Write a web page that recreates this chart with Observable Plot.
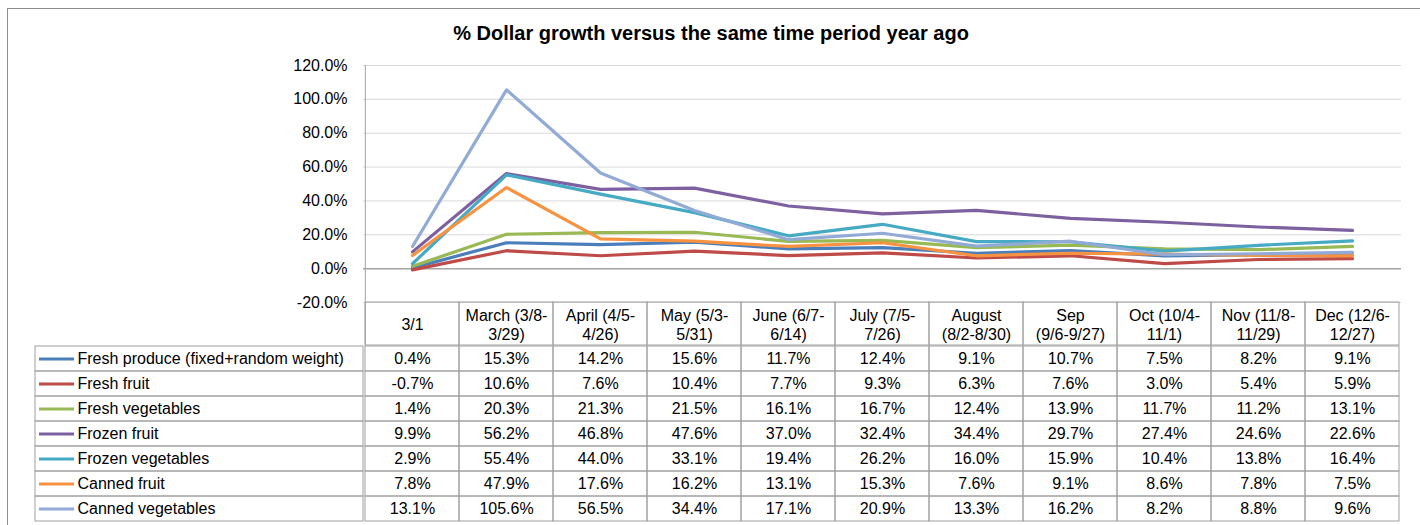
<!DOCTYPE html>
<html><head><meta charset="utf-8">
<script src="https://cdn.jsdelivr.net/npm/d3@7"></script>
<script src="https://cdn.jsdelivr.net/npm/@observablehq/plot@0.6"></script>
<style>
html,body{margin:0;padding:0;background:#fff;}
#wrap{position:relative;width:1420px;height:525px;overflow:hidden;font-family:"Liberation Sans",Arial,sans-serif;}
#border{position:absolute;left:7px;top:8px;width:1420px;height:600px;border-left:1px solid #8e8e8e;border-top:1px solid #8e8e8e;}
#title{position:absolute;left:0;top:21px;width:1422px;text-align:center;font-weight:bold;font-size:20px;line-height:24px;color:#000;}
#wrap svg{position:absolute;left:0;top:0;}
</style></head><body>
<div id="wrap"><div id="border"></div><div id="title">% Dollar growth versus the same time period year ago</div></div>
<script>
const categories = ["3/1","March (3/8-\n3/29)","April (4/5-\n4/26)","May (5/3-\n5/31)","June (6/7-\n6/14)","July (7/5-\n7/26)","August\n(8/2-8/30)","Sep\n(9/6-9/27)","Oct (10/4-\n11/1)","Nov (11/8-\n11/29)","Dec (12/6-\n12/27)"];
const seriesNames = ["Fresh produce (fixed+random weight)","Fresh fruit","Fresh vegetables","Frozen fruit","Frozen vegetables","Canned fruit","Canned vegetables"];
const freshProduce = [0.4,15.3,14.2,15.6,11.7,12.4,9.1,10.7,7.5,8.2,9.1];
const freshFruit = [-0.7,10.6,7.6,10.4,7.7,9.3,6.3,7.6,3.0,5.4,5.9];
const freshVegetables = [1.4,20.3,21.3,21.5,16.1,16.7,12.4,13.9,11.7,11.2,13.1];
const frozenFruit = [9.9,56.2,46.8,47.6,37.0,32.4,34.4,29.7,27.4,24.6,22.6];
const frozenVegetables = [2.9,55.4,44.0,33.1,19.4,26.2,16.0,15.9,10.4,13.8,16.4];
const cannedFruit = [7.8,47.9,17.6,16.2,13.1,15.3,7.6,9.1,8.6,7.8,7.5];
const cannedVegetables = [13.1,105.6,56.5,34.4,17.1,20.9,13.3,16.2,8.2,8.8,9.6];
const yTicks = [-20,0,20,40,60,80,100,120];
const colors = ["#4A7EBB","#BE4B48","#98B954","#7D60A0","#46AAC5","#F69240","#92AAD6"];

const seriesValues = [freshProduce,freshFruit,freshVegetables,frozenFruit,frozenVegetables,cannedFruit,cannedVegetables];
const rows = [];
seriesNames.forEach((s,i)=>categories.forEach((c,j)=>rows.push({series:s,cat:c,value:seriesValues[i][j]})));

const font = {fontFamily:'"Liberation Sans",Arial,sans-serif',fontSize:"16px",color:"#000",background:"transparent",overflow:"visible"};
const gridC = "#a0a0a0";
const bw = (1401-363)/categories.length;

const chart = Plot.plot({
  width:1420, height:525, marginTop:65, marginBottom:180, marginLeft:363, marginRight:19,
  style:font,
  x:{type:"band", domain:categories, padding:0, axis:null},
  y:{domain:[-20,120], range:[302,65], axis:null},
  color:{domain:seriesNames, range:colors},
  marks:[
    Plot.gridY(yTicks, {stroke:"#d9d9d9", strokeOpacity:1}),
    Plot.ruleY([0], {stroke:"#a6a6a6", strokeWidth:1.5}),
    Plot.axisY(yTicks, {tickSize:0, tickPadding:16, tickFormat:d=>d.toFixed(1)+"%", label:null, fontSize:16}),
    Plot.cell(categories, {x:d=>d, fill:"none", stroke:gridC, insetTop:237}),
    Plot.ruleX([categories[0]], {x:d=>d, dx:-bw/2, stroke:gridC}),
    Plot.text(categories, {x:d=>d, text:d=>d, frameAnchor:"bottom", lineAnchor:"middle", dy:-21.5, lineHeight:1.2, fontSize:16}),
    Plot.line(rows, {x:"cat", y:"value", z:"series", stroke:"series", strokeWidth:3.2, strokeLinejoin:"round", strokeLinecap:"round"})
  ]
});

const table = Plot.plot({
  width:1420, height:525, marginTop:345, marginBottom:3, marginLeft:35, marginRight:19,
  style:font,
  x:{type:"band", domain:categories, range:[363,1401], padding:0, axis:null},
  y:{type:"band", domain:seriesNames, padding:0, axis:null},
  color:{domain:seriesNames, range:colors},
  marks:[
    Plot.cell(rows, {x:"cat", y:"series", fill:"none", stroke:gridC}),
    Plot.cell(seriesNames, {y:d=>d, fill:"none", stroke:gridC, insetRight:1038}),
    Plot.ruleY(seriesNames, {y:d=>d, stroke:d=>d, strokeWidth:3, insetLeft:4, insetRight:1327}),
    Plot.text(seriesNames, {y:d=>d, text:d=>d, frameAnchor:"left", dx:42, textAnchor:"start", fontSize:16, letterSpacing:0.3}),
    Plot.text(rows, {x:"cat", y:"series", text:d=>d.value.toFixed(1)+"%", fontSize:16})
  ]
});

const wrap = document.getElementById("wrap");
wrap.appendChild(chart);
wrap.appendChild(table);
</script>
</body></html>
